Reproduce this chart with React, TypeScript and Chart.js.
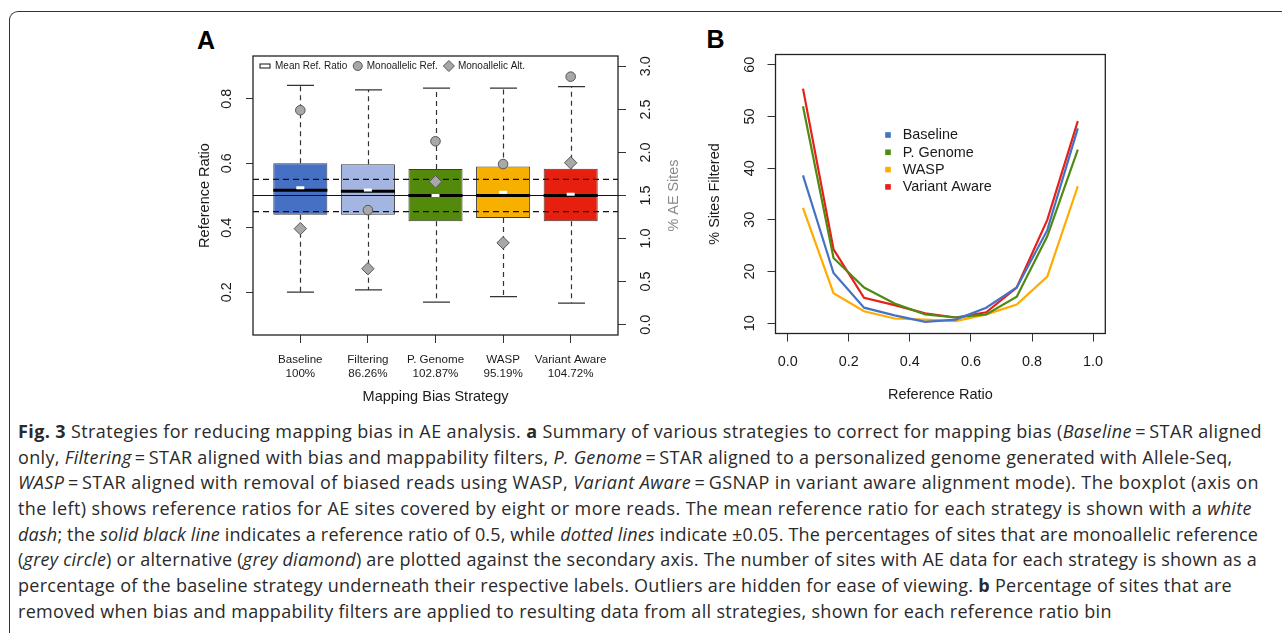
import React, { useEffect, useLayoutEffect, useRef } from "react";
import { Chart, registerables } from "chart.js";

Chart.register(...registerables);

const FONT = "'Liberation Sans', Arial, Helvetica, sans-serif";

// ---------- Panel A data ----------
const strategies = ["Baseline", "Filtering", "P. Genome", "WASP", "Variant Aware"];
const aeSitePercent = ["100%", "86.26%", "102.87%", "95.19%", "104.72%"];
const whiskerLow = [0.2, 0.207, 0.169, 0.186, 0.166];
const lowerQuartile = [0.44, 0.44, 0.42, 0.43, 0.42];
const medianRatio = [0.516, 0.513, 0.5, 0.5, 0.5];
const upperQuartile = [0.6, 0.597, 0.582, 0.59, 0.583];
const whiskerHigh = [0.842, 0.828, 0.833, 0.833, 0.838];
const meanRatio = [0.524, 0.517, 0.5, 0.51, 0.504];
const monoRefPercent = [2.49, 1.33, 2.13, 1.865, 2.88];
const monoAltPercent = [1.115, 0.65, 1.66, 0.95, 1.88];
const refRatioTicks = [0.2, 0.4, 0.6, 0.8];
const aeSiteTicks = [0, 0.5, 1, 1.5, 2, 2.5, 3];
const refLines = [0.45, 0.5, 0.55];
const legendA = ["Mean Ref. Ratio", "Monoallelic Ref.", "Monoallelic Alt."];

// ---------- Panel B data ----------
const binCenters = [0.05, 0.15, 0.25, 0.35, 0.45, 0.55, 0.65, 0.75, 0.85, 0.95];
const seriesNames = ["Baseline", "P. Genome", "WASP", "Variant Aware"];
const baselineFiltered = [38.6, 19.7, 13.0, 11.5, 10.25, 10.7, 13.0, 16.9, 28.0, 47.7];
const pGenomeFiltered = [52.0, 22.6, 16.9, 13.8, 11.7, 11.1, 11.7, 15.1, 26.8, 43.6];
const waspFiltered = [32.3, 15.8, 12.3, 10.9, 10.7, 10.4, 11.7, 13.6, 19.0, 36.5];
const variantAwareFiltered = [55.4, 24.3, 14.9, 13.5, 11.9, 11.1, 12.1, 16.9, 30.0, 49.1];
const ratioTicks = [0, 0.2, 0.4, 0.6, 0.8, 1.0];
const filteredTicks = [10, 20, 30, 40, 50, 60];

const boxColors = ["#4670c4", "#a3b5e0", "#548a0c", "#f8b000", "#e61f0e"];
const lineColors = ["#4472c4", "#4f8a12", "#ffab00", "#e8201a"];
const seriesValues = [baselineFiltered, pGenomeFiltered, waspFiltered, variantAwareFiltered];

// caption line right edges seen in the figure (null = natural width)
const captionLineEnds: (number | null)[] = [1262, null, 1259, 1252, 1258, 1257, 1232, null];

function drawRotatedTicks(ctx: any, scale: any, ticks: number[], bx: number, fmt: (v: number) => string, font: string, color: string) {
  ctx.save();
  ctx.font = font;
  ctx.fillStyle = color;
  ctx.textAlign = "center";
  ctx.textBaseline = "alphabetic";
  ticks.forEach((v) => {
    const py = scale.getPixelForValue(v);
    ctx.save();
    ctx.translate(bx, py);
    ctx.rotate(-Math.PI / 2);
    ctx.fillText(fmt(v), 0, 0);
    ctx.restore();
  });
  ctx.restore();
}

function drawFrame(ctx: any, ca: any) {
  ctx.save();
  ctx.strokeStyle = "#222";
  ctx.lineWidth = 1.3;
  ctx.strokeRect(ca.left, ca.top, ca.right - ca.left, ca.bottom - ca.top);
  ctx.restore();
}

const panelAPlugin = {
  id: "panelA",
  afterDatasetDraw(chart: any, args: any) {
    if (args.index !== 0) return;
    const { ctx, chartArea: ca } = chart;
    const xs = chart.scales.x;
    const ys = chart.scales.y;
    const bars = chart.getDatasetMeta(0).data;
    ctx.save();
    strategies.forEach((_, i) => {
      const cx = Math.round(xs.getPixelForValue(i)) + 0.5;
      const half = bars[i].width / 2;
      const yHi = ys.getPixelForValue(whiskerHigh[i]);
      const yQ3 = ys.getPixelForValue(upperQuartile[i]);
      const yQ1 = ys.getPixelForValue(lowerQuartile[i]);
      const yLo = ys.getPixelForValue(whiskerLow[i]);
      ctx.strokeStyle = "#333";
      ctx.lineWidth = 1.2;
      ctx.setLineDash([5, 4]);
      ctx.beginPath();
      ctx.moveTo(cx, yQ3);
      ctx.lineTo(cx, yHi);
      ctx.moveTo(cx, yQ1);
      ctx.lineTo(cx, yLo);
      ctx.stroke();
      ctx.setLineDash([]);
      ctx.beginPath();
      ctx.moveTo(cx - half / 2, yHi);
      ctx.lineTo(cx + half / 2, yHi);
      ctx.moveTo(cx - half / 2, yLo);
      ctx.lineTo(cx + half / 2, yLo);
      ctx.stroke();
    });
    refLines.forEach((v) => {
      const py = ys.getPixelForValue(v);
      ctx.strokeStyle = "#111";
      ctx.lineWidth = 1.1;
      ctx.setLineDash(v === 0.5 ? [] : [6, 4]);
      ctx.beginPath();
      ctx.moveTo(ca.left, py);
      ctx.lineTo(ca.right, py);
      ctx.stroke();
    });
    ctx.setLineDash([]);
    strategies.forEach((_, i) => {
      const cx = xs.getPixelForValue(i);
      const half = bars[i].width / 2;
      const ym = ys.getPixelForValue(medianRatio[i]);
      ctx.strokeStyle = "#000";
      ctx.lineWidth = 3;
      ctx.beginPath();
      ctx.moveTo(cx - half, ym);
      ctx.lineTo(cx + half, ym);
      ctx.stroke();
      const yMean = ys.getPixelForValue(meanRatio[i]);
      ctx.fillStyle = "#fff";
      ctx.fillRect(cx - 4, yMean - 1.5, 8, 3);
    });
    ctx.restore();
  },
  afterDraw(chart: any) {
    const { ctx, chartArea: ca } = chart;
    drawFrame(ctx, ca);
    const tickFont = `14.4px ${FONT}`;
    drawRotatedTicks(ctx, chart.scales.y, refRatioTicks, ca.left - 22, (v) => v.toFixed(1), tickFont, "#1a1a1a");
    drawRotatedTicks(ctx, chart.scales.y2, aeSiteTicks, ca.right + 32, (v) => v.toFixed(1), tickFont, "#1a1a1a");
    ctx.save();
    ctx.font = tickFont;
    ctx.fillStyle = "#8a8a8a";
    ctx.textAlign = "center";
    ctx.textBaseline = "alphabetic";
    ctx.translate(ca.right + 60, (ca.top + ca.bottom) / 2);
    ctx.rotate(-Math.PI / 2);
    ctx.fillText("% AE Sites", 0, 0);
    ctx.restore();
    // legend
    ctx.save();
    ctx.font = `10px ${FONT}`;
    ctx.textBaseline = "middle";
    ctx.textAlign = "left";
    const ly = ca.top + 10;
    let x = ca.left + 7;
    ctx.fillStyle = "#fff";
    ctx.strokeStyle = "#111";
    ctx.lineWidth = 1;
    ctx.fillRect(x, ly - 2, 10, 4);
    ctx.strokeRect(x, ly - 2, 10, 4);
    x += 15;
    ctx.fillStyle = "#1a1a1a";
    ctx.fillText(legendA[0], x, ly);
    x += ctx.measureText(legendA[0]).width + 10.5;
    ctx.beginPath();
    ctx.arc(x, ly, 4.5, 0, Math.PI * 2);
    ctx.fillStyle = "#a8a8a8";
    ctx.fill();
    ctx.strokeStyle = "#555";
    ctx.stroke();
    x += 9;
    ctx.fillStyle = "#1a1a1a";
    ctx.fillText(legendA[1], x, ly);
    x += ctx.measureText(legendA[1]).width + 11;
    ctx.beginPath();
    ctx.moveTo(x - 5.5, ly);
    ctx.lineTo(x, ly - 5.5);
    ctx.lineTo(x + 5.5, ly);
    ctx.lineTo(x, ly + 5.5);
    ctx.closePath();
    ctx.fillStyle = "#a8a8a8";
    ctx.fill();
    ctx.strokeStyle = "#555";
    ctx.stroke();
    x += 9;
    ctx.fillStyle = "#1a1a1a";
    ctx.fillText(legendA[2], x, ly);
    ctx.restore();
  },
};

const panelBPlugin = {
  id: "panelB",
  afterDraw(chart: any) {
    const { ctx, chartArea: ca } = chart;
    drawFrame(ctx, ca);
    drawRotatedTicks(ctx, chart.scales.y, filteredTicks, ca.left - 21.5, (v) => String(v), `14.4px ${FONT}`, "#1a1a1a");
    ctx.save();
    ctx.font = `14.4px ${FONT}`;
    ctx.textBaseline = "middle";
    ctx.textAlign = "left";
    seriesNames.forEach((name, i) => {
      const y = ca.top + 80.5 + i * 17.3;
      ctx.fillStyle = lineColors[i];
      ctx.fillRect(ca.left + 112.5 - 2.8, y - 2.8, 5.6, 5.6);
      ctx.fillStyle = "#1a1a1a";
      ctx.fillText(name, ca.left + 127.2, y + 0.5);
    });
    ctx.restore();
  },
};

function PanelA() {
  const ref = useRef<HTMLCanvasElement | null>(null);
  useEffect(() => {
    if (!ref.current) return;
    const chart = new Chart(ref.current, {
      type: "bar",
      data: {
        datasets: [
          {
            type: "bar",
            label: "Reference Ratio",
            data: strategies.map((_, i) => ({ x: i, y: [lowerQuartile[i], upperQuartile[i]] })) as any,
            backgroundColor: boxColors,
            borderColor: "#3a3a3a",
            borderWidth: 1,
            borderSkipped: false,
            barPercentage: 0.8,
            categoryPercentage: 1,
            yAxisID: "y",
            order: 3,
          } as any,
          {
            type: "scatter",
            label: "Monoallelic Ref.",
            data: monoRefPercent.map((v, i) => ({ x: i, y: v })),
            pointStyle: "circle",
            pointRadius: 4.8,
            backgroundColor: "#a8a8a8",
            borderColor: "#555",
            borderWidth: 1,
            yAxisID: "y2",
            order: 1,
          } as any,
          {
            type: "scatter",
            label: "Monoallelic Alt.",
            data: monoAltPercent.map((v, i) => ({ x: i, y: v })),
            pointStyle: "rectRot",
            pointRadius: 6.2,
            backgroundColor: "#a8a8a8",
            borderColor: "#555",
            borderWidth: 1,
            yAxisID: "y2",
            order: 2,
          } as any,
        ],
      },
      options: {
        responsive: false,
        animation: false,
        events: [],
        layout: { padding: { top: 36, right: 0, bottom: 0, left: 0 } },
        plugins: { legend: { display: false }, tooltip: { enabled: false } },
        scales: {
          x: {
            type: "linear",
            offset: false,
            min: -0.7,
            max: 4.7,
            afterBuildTicks: (s: any) => {
              s.ticks = strategies.map((_, i) => ({ value: i }));
            },
            afterFit: (s: any) => {
              s.height = 75;
            },
            grid: { offset: false, drawOnChartArea: false, drawTicks: true, tickLength: 8, color: "#333", tickColor: "#333" },
            border: { display: false },
            ticks: {
              autoSkip: false,
              maxRotation: 0,
              padding: 10,
              color: "#1a1a1a",
              font: { family: FONT, size: 11.6 },
              callback: (v: any) => [strategies[v], aeSitePercent[v]],
            },
            title: {
              display: true,
              text: "Mapping Bias Strategy",
              color: "#1a1a1a",
              font: { family: FONT, size: 14.5 },
              padding: { top: 0, bottom: 4.6 },
            },
          },
          y: {
            type: "linear",
            position: "left",
            min: 0.067,
            max: 0.933,
            afterBuildTicks: (s: any) => {
              s.ticks = refRatioTicks.map((v) => ({ value: v }));
            },
            afterFit: (s: any) => {
              s.width = 73;
            },
            grid: { drawOnChartArea: false, drawTicks: true, tickLength: 7, color: "#333", tickColor: "#333" },
            border: { display: false },
            ticks: { display: false },
            title: {
              display: true,
              text: "Reference Ratio",
              color: "#1a1a1a",
              font: { family: FONT, size: 14.5 },
              padding: { top: 16.3, bottom: 0 },
            },
          },
          y2: {
            type: "linear",
            position: "right",
            min: -0.12,
            max: 3.12,
            afterBuildTicks: (s: any) => {
              s.ticks = aeSiteTicks.map((v) => ({ value: v }));
            },
            afterFit: (s: any) => {
              s.width = 72;
            },
            grid: { drawOnChartArea: false, drawTicks: true, tickLength: 8, color: "#333", tickColor: "#333" },
            border: { display: false },
            ticks: { display: false },
          },
        },
      } as any,
      plugins: [panelAPlugin],
    });
    return () => chart.destroy();
  }, []);
  return <canvas ref={ref} width={510} height={390} style={{ position: "absolute", left: 180, top: 20 }} />;
}

function PanelB() {
  const ref = useRef<HTMLCanvasElement | null>(null);
  useEffect(() => {
    if (!ref.current) return;
    const chart = new Chart(ref.current, {
      type: "line",
      data: {
        datasets: seriesNames.map((name, k) => ({
          label: name,
          data: binCenters.map((x, i) => ({ x, y: seriesValues[k][i] })),
          borderColor: lineColors[k],
          backgroundColor: lineColors[k],
          borderWidth: 2.2,
          pointRadius: 0,
          tension: 0,
        })),
      },
      options: {
        responsive: false,
        animation: false,
        events: [],
        layout: { padding: { top: 34.5, right: 24.7, bottom: 0, left: 0 } },
        plugins: { legend: { display: false }, tooltip: { enabled: false } },
        scales: {
          x: {
            type: "linear",
            min: -0.04,
            max: 1.04,
            afterBuildTicks: (s: any) => {
              s.ticks = ratioTicks.map((v) => ({ value: v }));
            },
            afterFit: (s: any) => {
              s.height = 76.5;
            },
            grid: { drawOnChartArea: false, drawTicks: true, tickLength: 8, color: "#333", tickColor: "#333" },
            border: { display: false },
            ticks: {
              autoSkip: false,
              maxRotation: 0,
              padding: 11.5,
              color: "#1a1a1a",
              font: { family: FONT, size: 14.4 },
              callback: (v: any) => Number(v).toFixed(1),
            },
            title: {
              display: true,
              text: "Reference Ratio",
              color: "#1a1a1a",
              font: { family: FONT, size: 14.5 },
              padding: { top: 0, bottom: 6.3 },
            },
          },
          y: {
            type: "linear",
            min: 8,
            max: 62,
            afterBuildTicks: (s: any) => {
              s.ticks = filteredTicks.map((v) => ({ value: v }));
            },
            afterFit: (s: any) => {
              s.width = 85.5;
            },
            grid: { drawOnChartArea: false, drawTicks: true, tickLength: 8, color: "#333", tickColor: "#333" },
            border: { display: false },
            ticks: { display: false },
            title: {
              display: true,
              text: "% Sites Filtered",
              color: "#1a1a1a",
              font: { family: FONT, size: 14.5 },
              padding: { top: 16.3, bottom: 0 },
            },
          },
        },
      } as any,
      plugins: [panelBPlugin],
    });
    return () => chart.destroy();
  }, []);
  return <canvas ref={ref} width={440} height={390} style={{ position: "absolute", left: 690, top: 20 }} />;
}

const EQ = "\u2009=\u2009";
const CAPTION_LEFT = 18;

function Caption() {
  const lineRefs = useRef<(HTMLSpanElement | null)[]>([]);
  useLayoutEffect(() => {
    const spans = lineRefs.current;
    const spacings: (number | null)[] = spans.map((el, i) => {
      const target = captionLineEnds[i];
      if (!el || target == null) return null;
      el.style.letterSpacing = "0px";
      const w = el.getBoundingClientRect().width;
      const n = (el.textContent || "").length;
      return Math.max(-0.8, Math.min(1.2, (target - CAPTION_LEFT - w) / n));
    });
    const known = spacings.filter((v) => v != null) as number[];
    const mean = known.reduce((a, b) => a + b, 0) / Math.max(1, known.length);
    spans.forEach((el, i) => {
      if (!el) return;
      const ls = spacings[i] == null ? mean : (spacings[i] as number);
      el.style.letterSpacing = `${ls}px`;
    });
  }, []);
  const lineStyle: React.CSSProperties = {
    whiteSpace: "nowrap",
    height: 25.7,
    lineHeight: "25.7px",
  };
  const setRef = (i: number) => (el: HTMLSpanElement | null) => {
    lineRefs.current[i] = el;
  };
  return (
    <div
      style={{
        position: "absolute",
        left: CAPTION_LEFT,
        top: 419,
        fontFamily: "'Open Sans', 'Noto Sans', sans-serif",
        fontSize: 18,
        color: "#2a2a2a",
      }}
    >
      <div style={lineStyle}>
        <span ref={setRef(0)}>
          <b>Fig. 3</b> Strategies for reducing mapping bias in AE analysis. <b>a</b> Summary of various strategies to correct for mapping bias (<i>Baseline</i>
          {EQ}STAR aligned
        </span>
      </div>
      <div style={lineStyle}>
        <span ref={setRef(1)}>
          only, <i>Filtering</i>
          {EQ}STAR aligned with bias and mappability filters, <i>P. Genome</i>
          {EQ}STAR aligned to a personalized genome generated with Allele-Seq,
        </span>
      </div>
      <div style={lineStyle}>
        <span ref={setRef(2)}>
          <i>WASP</i>
          {EQ}STAR aligned with removal of biased reads using WASP, <i>Variant Aware</i>
          {EQ}GSNAP in variant aware alignment mode). The boxplot (axis on
        </span>
      </div>
      <div style={lineStyle}>
        <span ref={setRef(3)}>
          the left) shows reference ratios for AE sites covered by eight or more reads. The mean reference ratio for each strategy is shown with a <i>white</i>
        </span>
      </div>
      <div style={lineStyle}>
        <span ref={setRef(4)}>
          <i>dash</i>; the <i>solid black line</i> indicates a reference ratio of 0.5, while <i>dotted lines</i> indicate ±0.05. The percentages of sites that are monoallelic reference
        </span>
      </div>
      <div style={lineStyle}>
        <span ref={setRef(5)}>
          (<i>grey circle</i>) or alternative (<i>grey diamond</i>) are plotted against the secondary axis. The number of sites with AE data for each strategy is shown as a
        </span>
      </div>
      <div style={lineStyle}>
        <span ref={setRef(6)}>
          percentage of the baseline strategy underneath their respective labels. Outliers are hidden for ease of viewing. <b>b</b> Percentage of sites that are
        </span>
      </div>
      <div style={lineStyle}>
        <span ref={setRef(7)}>
          removed when bias and mappability filters are applied to resulting data from all strategies, shown for each reference ratio bin
        </span>
      </div>
    </div>
  );
}

export default function App() {
  return (
    <div
      style={{
        position: "absolute",
        left: 0,
        top: 0,
        width: 1282,
        height: 633,
        overflow: "hidden",
        background: "#fff",
      }}
    >
      <div
        style={{
          position: "absolute",
          left: 9,
          top: 11,
          width: 1400,
          height: 800,
          borderLeft: "1.6px solid #333",
          borderTop: "1.6px solid #333",
          borderTopLeftRadius: 9,
        }}
      />
      <div
        style={{
          position: "absolute",
          left: 197,
          top: 28,
          fontFamily: FONT,
          fontWeight: "bold",
          fontSize: 25,
          lineHeight: "25px",
          color: "#000",
        }}
      >
        A
      </div>
      <div
        style={{
          position: "absolute",
          left: 706.5,
          top: 27.3,
          fontFamily: FONT,
          fontWeight: "bold",
          fontSize: 25,
          lineHeight: "25px",
          color: "#000",
        }}
      >
        B
      </div>
      <PanelA />
      <PanelB />
      <Caption />
    </div>
  );
}
